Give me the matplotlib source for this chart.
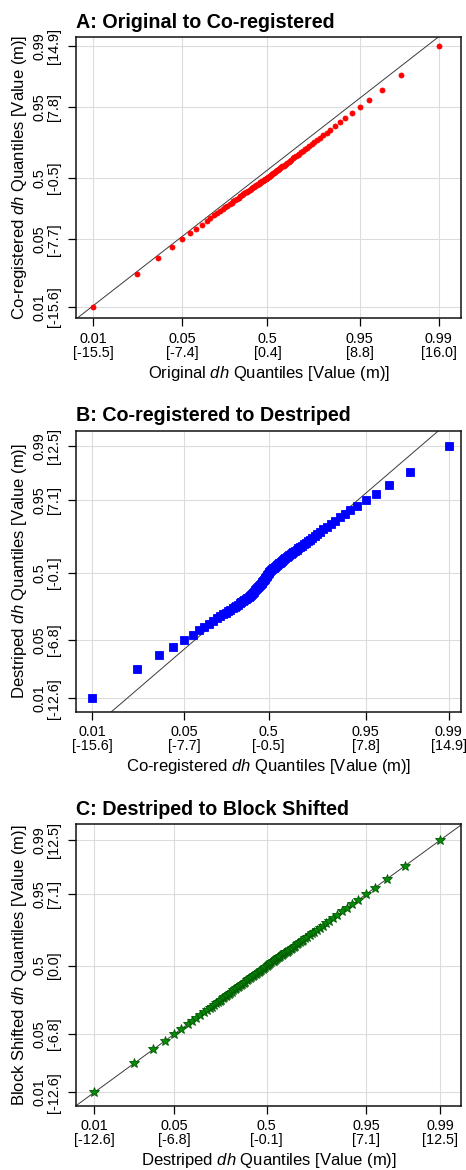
import matplotlib
matplotlib.use("Agg")
import matplotlib.pyplot as plt

plt.rcParams["font.family"] = ["Liberation Sans", "DejaVu Sans"]
plt.rcParams["mathtext.fontset"] = "custom"
plt.rcParams["mathtext.rm"] = "Liberation Sans"
plt.rcParams["mathtext.it"] = "Liberation Sans:italic"

# ================================
# DATA: dh quantiles at p = 0.01 ... 0.99
# ================================
original = [-15.5, -11.5, -9.6, -8.3, -7.4, -6.7, -6.1, -5.6, -5.15, -4.8,
            -4.45, -4.17, -3.91, -3.67, -3.45, -3.25, -3.05, -2.87, -2.70, -2.53,
            -2.38, -2.23, -2.08, -1.95, -1.82, -1.69, -1.57, -1.46, -1.34, -1.23,
            -1.13, -1.03, -0.93, -0.83, -0.74, -0.65, -0.56, -0.48, -0.40, -0.31,
            -0.24, -0.16, -0.08, -0.01, 0.06, 0.13, 0.20, 0.27, 0.34, 0.40,
            0.47, 0.54, 0.62, 0.70, 0.77, 0.85, 0.93, 1.02, 1.10, 1.19,
            1.28, 1.37, 1.47, 1.56, 1.66, 1.77, 1.87, 1.98, 2.09, 2.21,
            2.33, 2.45, 2.58, 2.72, 2.85, 3.00, 3.15, 3.31, 3.47, 3.64,
            3.83, 4.02, 4.22, 4.43, 4.66, 4.91, 5.17, 5.45, 5.80, 6.15,
            6.55, 7.00, 7.50, 8.10, 8.80, 9.70, 10.85, 12.60, 16.00]

coregistered = [-15.6, -11.75, -9.85, -8.65, -7.7, -7.0, -6.48, -6.0, -5.58, -5.25,
                -4.91, -4.64, -4.39, -4.17, -3.96, -3.77, -3.58, -3.41, -3.25, -3.09,
                -2.95, -2.82, -2.68, -2.56, -2.44, -2.32, -2.21, -2.11, -2.00, -1.91,
                -1.82, -1.73, -1.64, -1.55, -1.47, -1.39, -1.31, -1.25, -1.18, -1.10,
                -1.04, -0.97, -0.90, -0.84, -0.78, -0.73, -0.67, -0.61, -0.55, -0.50,
                -0.43, -0.37, -0.29, -0.21, -0.14, -0.07, 0.01, 0.10, 0.18, 0.27,
                0.35, 0.44, 0.54, 0.63, 0.72, 0.83, 0.93, 1.04, 1.14, 1.26,
                1.38, 1.50, 1.62, 1.76, 1.89, 2.04, 2.18, 2.34, 2.50, 2.67,
                2.85, 3.04, 3.24, 3.45, 3.67, 3.92, 4.18, 4.46, 4.80, 5.15,
                5.57, 6.02, 6.50, 7.07, 7.80, 8.65, 9.80, 11.55, 14.90]

destriped = [-12.6, -9.70, -8.33, -7.47, -6.80, -6.28, -5.84, -5.54, -5.20, -4.93,
             -4.65, -4.44, -4.24, -4.07, -3.91, -3.77, -3.63, -3.51, -3.39, -3.27,
             -3.16, -3.06, -2.94, -2.84, -2.73, -2.62, -2.51, -2.41, -2.29, -2.19,
             -2.09, -1.98, -1.87, -1.76, -1.65, -1.54, -1.43, -1.33, -1.22, -1.10,
             -1.00, -0.89, -0.78, -0.68, -0.58, -0.49, -0.39, -0.29, -0.19, -0.10,
             -0.01, 0.07, 0.16, 0.25, 0.33, 0.40, 0.48, 0.57, 0.65, 0.74,
             0.82, 0.90, 1.00, 1.08, 1.16, 1.26, 1.35, 1.45, 1.54, 1.64,
             1.75, 1.85, 1.95, 2.07, 2.18, 2.31, 2.43, 2.57, 2.71, 2.86,
             3.02, 3.19, 3.37, 3.56, 3.75, 3.97, 4.20, 4.44, 4.74, 5.04,
             5.40, 5.76, 6.12, 6.55, 7.10, 7.74, 8.63, 9.93, 12.50]

block_shifted = [-12.6, -9.70, -8.33, -7.47, -6.80, -6.28, -5.84, -5.54, -5.20, -4.93,
                 -4.65, -4.43, -4.23, -4.06, -3.90, -3.75, -3.61, -3.49, -3.37, -3.24,
                 -3.13, -3.03, -2.90, -2.80, -2.69, -2.58, -2.46, -2.36, -2.24, -2.14,
                 -2.03, -1.92, -1.81, -1.69, -1.58, -1.47, -1.36, -1.25, -1.14, -1.02,
                 -0.92, -0.80, -0.69, -0.59, -0.48, -0.39, -0.29, -0.19, -0.08, 0.01,
                 0.10, 0.17, 0.26, 0.35, 0.43, 0.49, 0.57, 0.66, 0.74, 0.82,
                 0.90, 0.98, 1.07, 1.15, 1.23, 1.33, 1.41, 1.51, 1.60, 1.70,
                 1.80, 1.90, 2.00, 2.11, 2.22, 2.35, 2.47, 2.60, 2.74, 2.89,
                 3.05, 3.21, 3.39, 3.58, 3.76, 3.98, 4.21, 4.45, 4.74, 5.04,
                 5.40, 5.76, 6.12, 6.55, 7.10, 7.74, 8.63, 9.93, 12.50]

tick_probs = [0.01, 0.05, 0.5, 0.95, 0.99]

# axis range used for each dataset
limits = {
    "Original": (-17.05, 18.05),
    "Co-registered": (-16.96, 15.95),
    "Destriped": (-13.93, 14.0),
    "Block Shifted": (-13.93, 14.07),
}

panels = [
    ("A: Original to Co-registered", "Original", original, "Co-registered", coregistered,
     "#ff0000", "#ff0000", "o", 3.6),
    ("B: Co-registered to Destriped", "Co-registered", coregistered, "Destriped", destriped,
     "#0000ff", "#0000ff", "s", 5.4),
    ("C: Destriped to Block Shifted", "Destriped", destriped, "Block Shifted", block_shifted,
     "#0a8a0a", "#005a00", "*", 7.0),
]

# axes boxes in pixels (top, bottom)
boxes = [(37.3, 318.3), (431.0, 711.7), (824.3, 1105.7)]
W, H = 466, 1170
left_px, right_px = 76, 461


def tick_info(values):
    pos = [values[int(round(p * 100)) - 1] for p in tick_probs]
    labs = [f"{p:g}\n[{v:.1f}]" for p, v in zip(tick_probs, pos)]
    return pos, labs


fig = plt.figure(figsize=(W / 100, H / 100), dpi=100)

for (title, xname, xv, yname, yv, col, ecol, mk, ms), (top, bot) in zip(panels, boxes):
    ax = fig.add_axes([left_px / W, 1 - bot / H, (right_px - left_px) / W, (bot - top) / H])

    ax.plot(xv, yv, linestyle="none", marker=mk, color=col, markeredgecolor=ecol,
            markersize=ms, markeredgewidth=0.6, zorder=3)
    ax.axline((0, 0), slope=1, color="#3a3a3a", lw=0.7, zorder=2)

    ax.set_xlim(*limits[xname])
    ax.set_ylim(*limits[yname])

    xpos, xlabs = tick_info(xv)
    ypos, ylabs = tick_info(yv)
    ax.set_xticks(xpos)
    ax.set_xticklabels(xlabs, fontsize=10.4, linespacing=1.0)
    ax.set_yticks(ypos)
    ax.set_yticklabels(ylabs, fontsize=10.4, rotation=90, va="center",
                       multialignment="center", linespacing=1.05)

    ax.grid(True, color="#dcdcdc", lw=0.8)
    ax.set_axisbelow(True)
    ax.tick_params(direction="out", length=6, width=0.9)
    ax.tick_params(axis="x", pad=3.8)
    ax.tick_params(axis="y", pad=4.5)
    for s in ax.spines.values():
        s.set_linewidth(1.1)
        s.set_color("#111111")

    ax.set_title(title, loc="left", fontsize=14.2, fontweight="bold", pad=7)

    cx = (left_px + right_px) / 2 / W
    fig.text(cx, 1 - (bot + 55) / H, f"{xname} $dh$ Quantiles [Value (m)]",
             ha="center", va="center", fontsize=12)
    fig.text(20 / W, 1 - (top + bot) / 2 / H, f"{yname} $dh$ Quantiles [Value (m)]",
             ha="center", va="center", rotation=90, fontsize=12)

fig.savefig("out.png", dpi=100)
